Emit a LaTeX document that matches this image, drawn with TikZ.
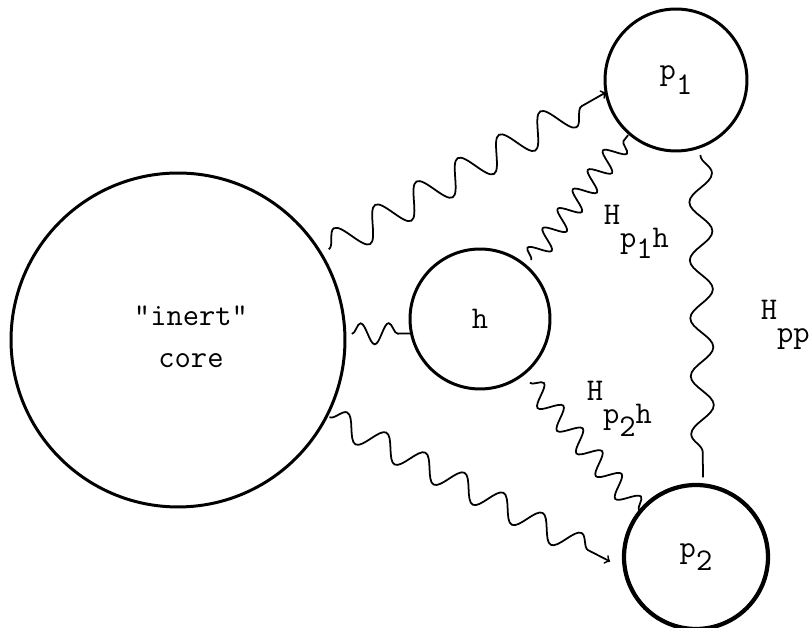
\documentclass[tikz,border=0pt]{standalone}
\usetikzlibrary{decorations.pathmorphing}
\begin{document}
\begin{tikzpicture}[x=0.02cm,y=0.02cm,line width=1pt,
  font=\ttfamily\fontsize{18}{24}\selectfont,
  orbit/.style={circle,draw,line width=1.7pt,inner sep=0pt,outer sep=0pt},
  coupling/.style={inner sep=0pt,anchor=base west},
  wavy/.style={decorate,decoration={snake,#1}}]
  \useasboundingbox (0,0) rectangle (809,628);

  \node[orbit,minimum size=6.68cm,
    label={[align=center,xshift=0.26cm,yshift=0.06cm]center:"inert"\\core}] (core) at (178,288) {};
  \node[orbit,minimum size=2.8cm] (h) at (480,309) {h};
  \node[orbit,minimum size=2.84cm] (p1) at (676,548) {p\raisebox{-0.45em}{1}};
  \node[orbit,minimum size=2.88cm,line width=2.4pt] (p2) at (696,71) {p\raisebox{-0.4em}{2}};

  % interactions
  \draw[->,wavy={amplitude=9pt,segment length=27pt,post length=4pt}]
    ([shift={(31.5:9)}]core.31.5) -- (p1.190);
  \draw[wavy={amplitude=6pt,segment length=16pt}]
    ([shift={(2:7)}]core.2) -- (h.192);
  \draw[wavy={amplitude=6pt,segment length=14pt}]
    ([shift={(49:8)}]h.49) -- ([shift={(229:2)}]p1.229);
  \draw[wavy={amplitude=6pt,segment length=17pt}]
    ([shift={(-52:11)}]h.-52) -- (p2.141);
  \draw[->,wavy={amplitude=7pt,segment length=25pt,post length=4pt}]
    ([shift={(-27:3)}]core.-27) -- ([shift={(183:14)}]p2.183);
  \draw[wavy={amplitude=6.5pt,segment length=33pt}]
    ([shift={(-72:8)}]p1.-72) -- ([shift={(85:8)}]p2.85);

  \node[coupling] (Hp1h) at (603,403) {H\raisebox{-0.72em}{p\raisebox{-0.34em}{1}h}};
  \node[coupling] (Hp2h) at (586,227) {H\raisebox{-0.7em}{p\raisebox{-0.42em}{2}h}};
  \node[coupling] (Hpp) at (760,308) {H\raisebox{-0.7em}{pp}};
\end{tikzpicture}
\end{document}
